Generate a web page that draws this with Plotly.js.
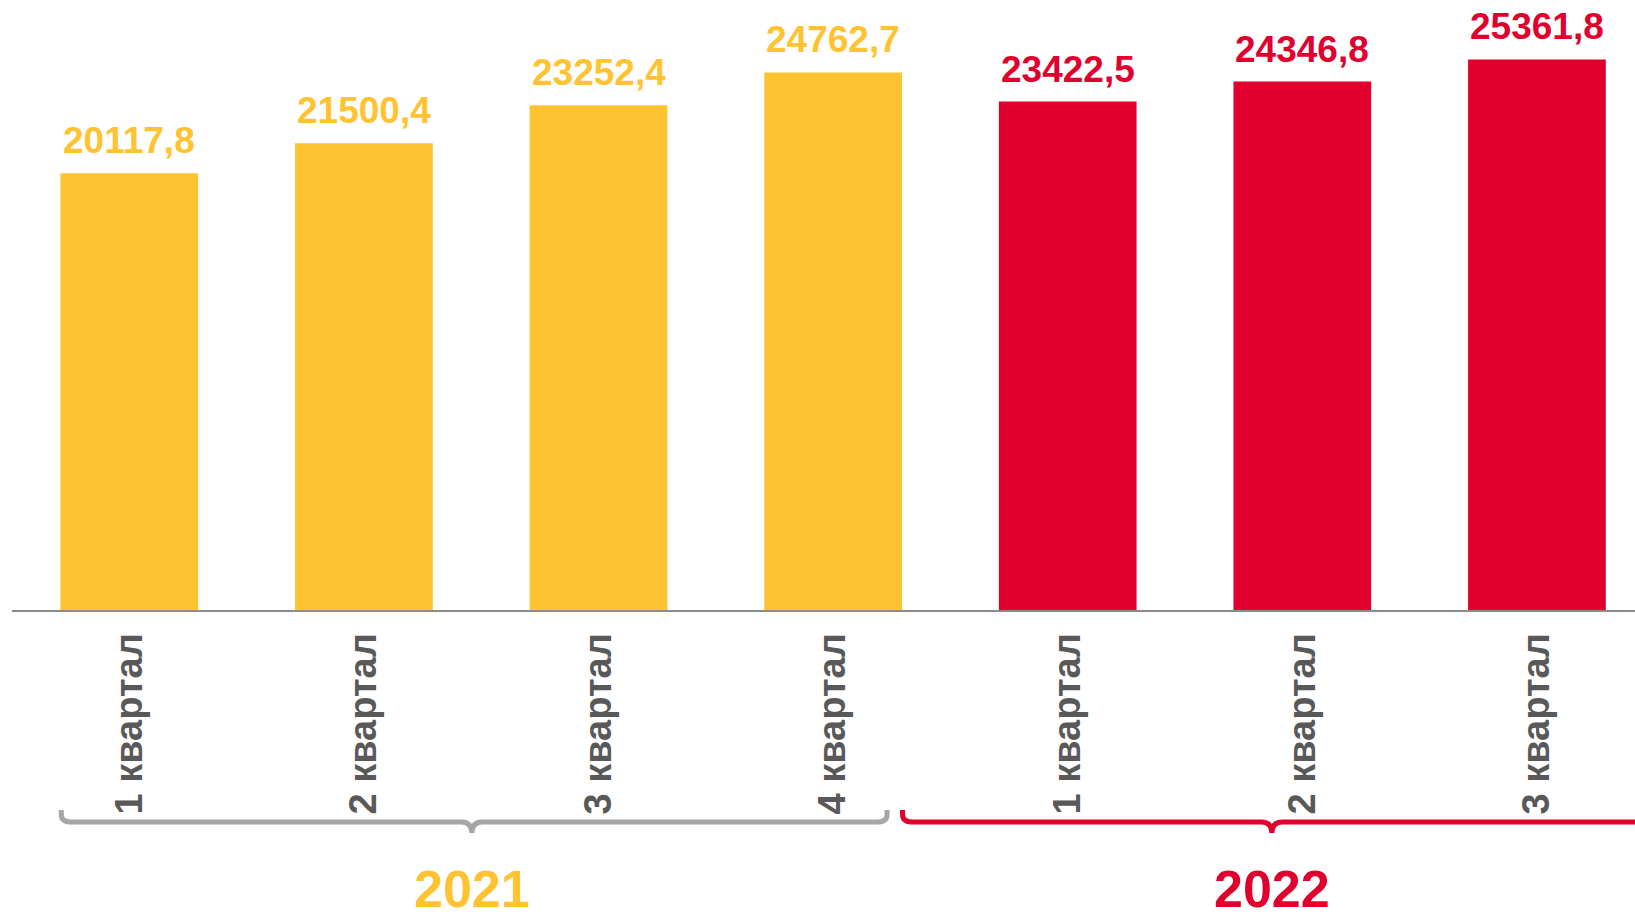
<!DOCTYPE html>
<html>
<head>
<meta charset="utf-8">
<script src="https://cdn.plot.ly/plotly-3.0.1.min.js"></script>
<style>
  html, body { margin: 0; padding: 0; background: #ffffff; }
  #chart { width: 1635px; height: 922px; }
</style>
</head>
<body>
<div id="chart"></div>
<script>
// ---- data ----
const quarterLabels = ['1 квартал', '2 квартал', '3 квартал', '4 квартал', '1 квартал', '2 квартал', '3 квартал'];
const years = ['2021', '2021', '2021', '2021', '2022', '2022', '2022'];
const values = [20117.8, 21500.4, 23252.4, 24762.7, 23422.5, 24346.8, 25361.8];
const yearNames = ['2021', '2022'];

// ---- styles ----
const YELLOW = '#FFC332';
const RED = '#E1002D';
const GRAY_TEXT = '#595959';
const yearColor = { '2021': YELLOW, '2022': RED };
const bracketColor = { '2021': '#A6A6A6', '2022': RED };
// bracket geometry per group (offsets in category units, relative to first / last bar of the group)
const bracketGeom = {
  '2021': { startOff: -0.29, endOff: 0.23, centerOff: 1.46 },
  '2022': { startOff: -0.704, endOff: 1.0, centerOff: 0.87 }
};
const FONT = 'Liberation Sans, Arial, Helvetica, sans-serif';

const xs = values.map((v, i) => i);
const barColors = years.map(y => yearColor[y]);
const fmt = v => v.toFixed(1).replace('.', ',');

const trace = {
  type: 'bar',
  x: xs,
  y: values,
  marker: { color: barColors, line: { width: 0 } },
  width: 0.587,
  hoverinfo: 'skip'
};

// value labels above bars
const annotations = values.map((v, i) => ({
  x: i, y: v, xref: 'x', yref: 'y',
  text: fmt(v),
  showarrow: false,
  yanchor: 'bottom',
  yshift: 10,
  font: { family: FONT, size: 37, color: barColors[i], weight: 'bold' }
}));

// group brackets + year labels
const shapes = [];
const yTop = -0.328, yLine = -0.3475, yTip = -0.3656;
const d = 0.045;
yearNames.forEach((yr) => {
  const idx = years.map((y, i) => y === yr ? i : -1).filter(i => i >= 0);
  const first = idx[0], last = idx[idx.length - 1];
  const g = bracketGeom[yr];
  const x0 = first + g.startOff;
  const x1 = last + g.endOff;
  const xc = first + g.centerOff;
  const col = bracketColor[yr];
  const path = `M ${x0},${yTop} L ${x0},${yLine + 0.012} Q ${x0},${yLine} ${x0 + d},${yLine} ` +
    `L ${xc - d},${yLine} Q ${xc},${yLine} ${xc},${yTip} Q ${xc},${yLine} ${xc + d},${yLine} ` +
    `L ${x1 - d},${yLine} Q ${x1},${yLine} ${x1},${yLine + 0.012} L ${x1},${yTop}`;
  shapes.push({
    type: 'path', xref: 'x', yref: 'paper', path: path,
    line: { color: col, width: 5 }, fillcolor: 'rgba(0,0,0,0)'
  });
  annotations.push({
    x: xc, y: -0.509, xref: 'x', yref: 'paper',
    text: yr, showarrow: false, xanchor: 'center', yanchor: 'bottom',
    font: { family: FONT, size: 52, color: yearColor[yr], weight: 'bold' }
  });
});

const layout = {
  width: 1635, height: 922,
  margin: { l: 12, r: 0, t: 0, b: 312 },
  paper_bgcolor: '#ffffff', plot_bgcolor: '#ffffff',
  showlegend: false,
  xaxis: {
    range: [-0.5, 6.418],
    tickmode: 'array', tickvals: xs, ticktext: quarterLabels,
    tickangle: -90,
    tickfont: { family: FONT, size: 38, color: GRAY_TEXT, weight: 'bold' },
    ticks: '', ticklabelstandoff: 6,
    showgrid: false, zeroline: false,
    showline: true, linecolor: '#8C8C8C', linewidth: 2,
    fixedrange: true
  },
  yaxis: {
    range: [0, 28102],
    visible: false, showgrid: false, zeroline: false, fixedrange: true
  },
  annotations: annotations,
  shapes: shapes
};

Plotly.newPlot('chart', [trace], layout, { displayModeBar: false, staticPlot: true });
</script>
</body>
</html>
